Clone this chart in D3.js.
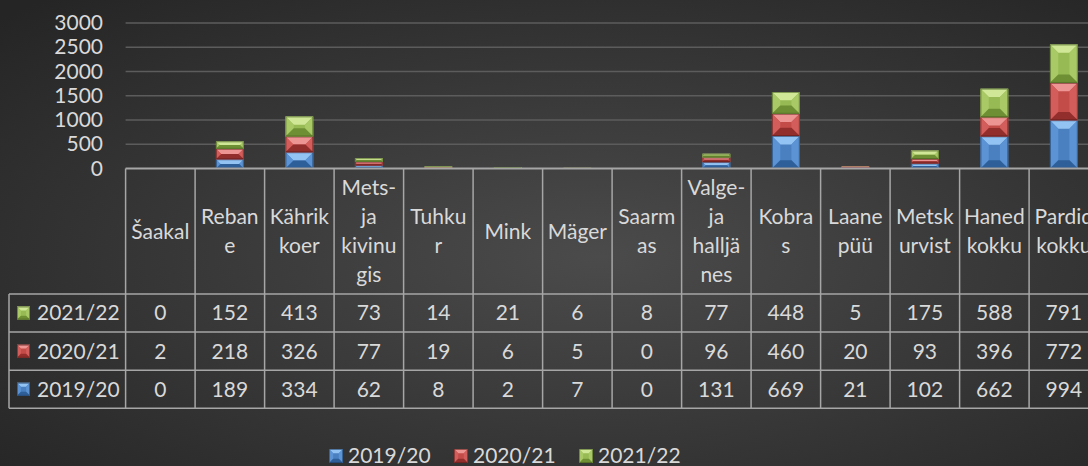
<!DOCTYPE html>
<html>
<head>
<meta charset="utf-8">
<script src="https://cdn.jsdelivr.net/npm/d3@7"></script>
<style>
  html, body { margin: 0; padding: 0; background: #333; }
  svg { display: block; font-family: Lato, "Open Sans", sans-serif; }
</style>
</head>
<body>
<svg id="chart" width="1088" height="466"></svg>
<script>
// categories, drawn with the same line breaks as the original table header
const categories = ["Šaakal", "Rebane", "Kährik koer", "Mets- ja kivinugis", "Tuhkur", "Mink", "Mäger",
  "Saarmas", "Valge- ja halljänes", "Kobras", "Laanepüü", "Metskurvist", "Haned kokku", "Pardid kokku"];
const categoryLines = [["Šaakal"], ["Reban", "e"], ["Kährik", "koer"], ["Mets-", "ja", "kivinu", "gis"],
  ["Tuhku", "r"], ["Mink"], ["Mäger"], ["Saarm", "as"], ["Valge-", "ja", "halljä", "nes"],
  ["Kobra", "s"], ["Laane", "püü"], ["Metsk", "urvist"], ["Haned", "kokku"], ["Pardid", "kokku"]];

const seriesNames = ["2019/20", "2020/21", "2021/22"];
const v2019 = [0, 189, 334, 62, 8, 2, 7, 0, 131, 669, 21, 102, 662, 994];
const v2020 = [2, 218, 326, 77, 19, 6, 5, 0, 96, 460, 20, 93, 396, 772];
const v2021 = [0, 152, 413, 73, 14, 21, 6, 8, 77, 448, 5, 175, 588, 791];
const yTicks = [0, 500, 1000, 1500, 2000, 2500, 3000];

const colors = {
  "2019/20": { base: "#4a7fc0", light: "#93c3f2", side: "#5b93d4", dark: "#2f5f98", edge: "#1f3f66" },
  "2020/21": { base: "#c34c49", light: "#ec9593", side: "#d25d5a", dark: "#922f2d", edge: "#5e1c1b" },
  "2021/22": { base: "#97ba55", light: "#cfe796", side: "#a8c965", dark: "#6f8f34", edge: "#465c20" }
};

const svg = d3.select("#chart");
const W = 1088, H = 466;

// background
const defs = svg.append("defs");
const bg = defs.append("radialGradient").attr("id", "bg")
  .attr("cx", "55%").attr("cy", "55%").attr("r", "75%");
bg.append("stop").attr("offset", "0%").attr("stop-color", "#4b4b4b");
bg.append("stop").attr("offset", "100%").attr("stop-color", "#252525");
svg.append("rect").attr("width", W).attr("height", H).attr("fill", "url(#bg)");

const left = 125.6, colW = 69.5;
const x = d3.scaleBand().domain(categories).range([left, left + categories.length * colW]).padding(0);
const y = d3.scaleLinear().domain([0, 3000]).range([168.5, 23]);

const textColor = "#d9d9d9";
const lineColor = "#a6a6a6";
const fontSize = 21;

// gridlines
svg.append("g").selectAll("line").data(yTicks.filter(d => d > 0)).join("line")
  .attr("x1", left).attr("x2", W)
  .attr("y1", d => y(d)).attr("y2", d => y(d))
  .attr("stroke", "#5c5c5c").attr("stroke-width", 1.5);

// y axis labels
const yAxis = d3.axisLeft(y).tickValues(yTicks).tickFormat(d3.format("d")).tickSize(0).tickPadding(0);
svg.append("g").attr("transform", "translate(103,0)").call(yAxis)
  .call(g => g.select(".domain").remove())
  .call(g => g.selectAll("text").attr("fill", textColor)
    .style("font-size", fontSize + "px").style("font-family", "Lato, 'Open Sans', sans-serif"));

// stacked bars with bevel
const rows = categories.map((c, i) => ({ cat: c, "2019/20": v2019[i], "2020/21": v2020[i], "2021/22": v2021[i] }));
const stack = d3.stack().keys(seriesNames)(rows);
const barW = x.bandwidth() * 0.4;

function bevel(g, x0, y0, w, h, c) {
  const x1 = x0 + w, y1 = y0 + h;
  const d = Math.min(w * 0.3, h / 2, 9);
  g.append("rect").attr("x", x0).attr("y", y0).attr("width", w).attr("height", h).attr("fill", c.base);
  if (d > 0.3) {
    const poly = (pts, f) => g.append("polygon").attr("points", pts.map(p => p.join(",")).join(" ")).attr("fill", f);
    poly([[x0, y0], [x1, y0], [x1 - d, y0 + d], [x0 + d, y0 + d]], c.light);
    poly([[x0, y0], [x0 + d, y0 + d], [x0 + d, y1 - d], [x0, y1]], c.side);
    poly([[x1, y0], [x1, y1], [x1 - d, y1 - d], [x1 - d, y0 + d]], c.side);
    poly([[x0, y1], [x0 + d, y1 - d], [x1 - d, y1 - d], [x1, y1]], c.dark);
  }
  g.append("rect").attr("x", x0 + 0.5).attr("y", y0 + 0.5).attr("width", Math.max(0, w - 1)).attr("height", Math.max(0, h - 1))
    .attr("fill", "none").attr("stroke", c.edge).attr("stroke-width", 0.8).attr("stroke-opacity", 0.7);
}

const barsG = svg.append("g");
stack.forEach(layer => {
  const c = colors[layer.key];
  layer.forEach(seg => {
    const h = y(seg[0]) - y(seg[1]);
    if (h <= 0) return;
    const bx = x(seg.data.cat) + (x.bandwidth() - barW) / 2;
    bevel(barsG, bx, y(seg[1]), barW, h, c);
  });
});

// data table
const headTop = 168.5, headBot = 294, rowH = 38.1, tableLeft = 9;
const tableRows = [
  { name: "2021/22", values: v2021 },
  { name: "2020/21", values: v2020 },
  { name: "2019/20", values: v2019 }
];
const tableBot = headBot + rowH * tableRows.length;
const right = x.range()[1];
const tg = svg.append("g");

// grid lines of the table
tg.append("line").attr("x1", left).attr("x2", right).attr("y1", headTop).attr("y2", headTop)
  .attr("stroke", lineColor).attr("stroke-width", 2);
d3.range(tableRows.length + 1).forEach(i => {
  tg.append("line").attr("x1", tableLeft).attr("x2", right)
    .attr("y1", headBot + i * rowH).attr("y2", headBot + i * rowH)
    .attr("stroke", lineColor).attr("stroke-width", 1.5);
});
categories.concat([null]).forEach((c, i) => {
  const xx = c === null ? right : x(c);
  tg.append("line").attr("x1", xx).attr("x2", xx).attr("y1", headTop).attr("y2", tableBot)
    .attr("stroke", lineColor).attr("stroke-width", 1.5);
});
tg.append("line").attr("x1", tableLeft).attr("x2", tableLeft).attr("y1", headBot).attr("y2", tableBot)
  .attr("stroke", lineColor).attr("stroke-width", 1.5);

// header labels
const lineGap = 29;
const headMid = (headTop + headBot) / 2;
categories.forEach((c, i) => {
  const lines = categoryLines[i];
  const t = tg.append("text").attr("text-anchor", "middle").attr("fill", textColor)
    .style("font-size", fontSize + "px");
  lines.forEach((ln, j) => {
    t.append("tspan").attr("x", x(c) + x.bandwidth() / 2)
      .attr("y", headMid + (j - (lines.length - 1) / 2) * lineGap)
      .attr("dy", "0.35em").text(ln);
  });
});

// rows
tableRows.forEach((r, i) => {
  const cy = headBot + i * rowH + rowH / 2;
  bevel(tg, 17, cy - 6.5, 13, 13, colors[r.name]);
  tg.append("text").attr("x", 37).attr("y", cy).attr("dy", "0.35em")
    .attr("fill", textColor).style("font-size", fontSize + "px").text(r.name);
  r.values.forEach((v, j) => {
    tg.append("text").attr("x", x(categories[j]) + x.bandwidth() / 2).attr("y", cy).attr("dy", "0.35em")
      .attr("text-anchor", "middle").attr("fill", textColor).style("font-size", fontSize + "px").text(v);
  });
});

// legend
const legendX = [329, 454, 579];
const lg = svg.append("g");
seriesNames.forEach((s, i) => {
  bevel(lg, legendX[i], 449, 14, 14, colors[s]);
  lg.append("text").attr("x", legendX[i] + 19).attr("y", 456).attr("dy", "0.35em")
    .attr("fill", textColor).style("font-size", fontSize + "px").text(s);
});
</script>
</body>
</html>
